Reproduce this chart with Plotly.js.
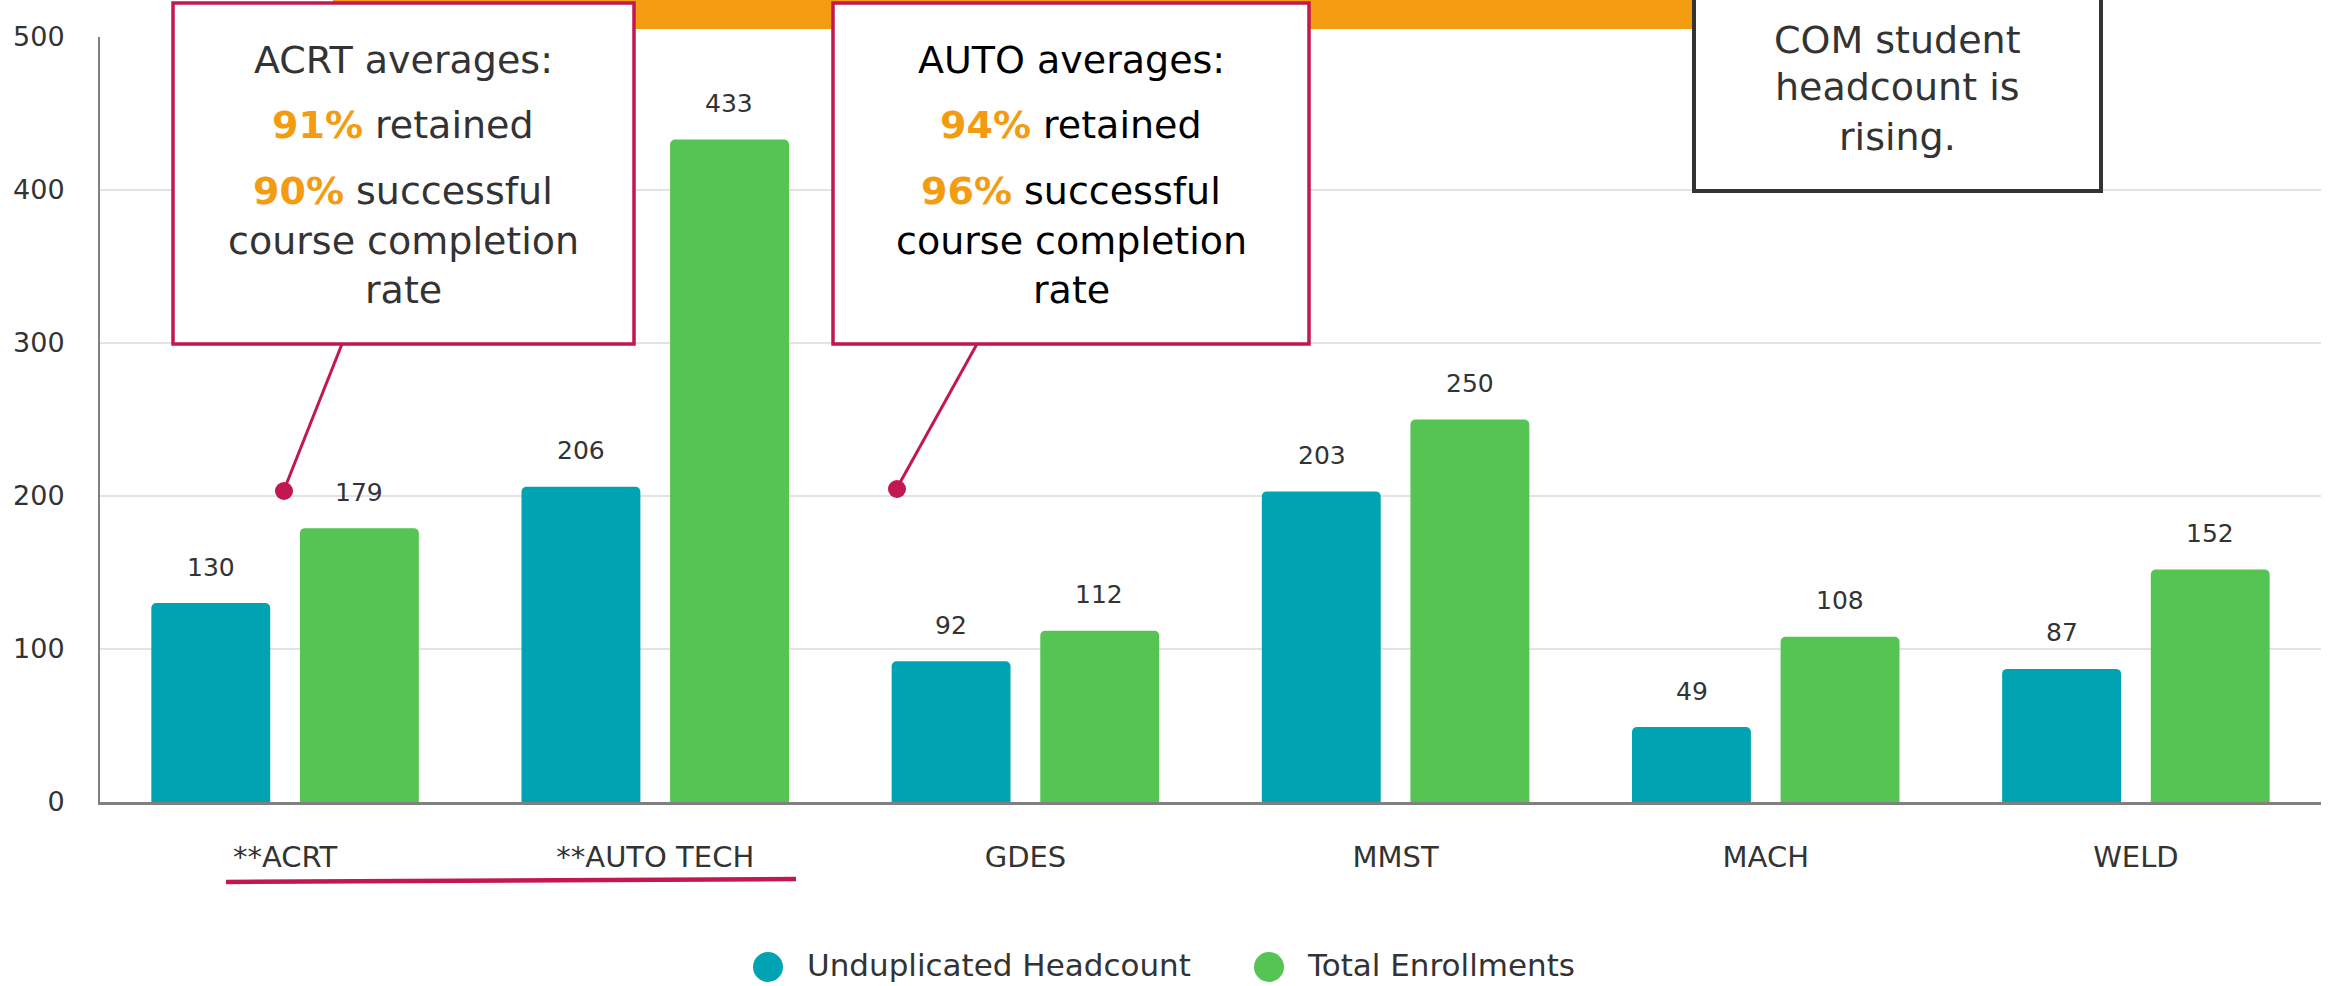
<!DOCTYPE html>
<html>
<head>
<meta charset="utf-8">
<script src="https://cdn.plot.ly/plotly-3.0.1.min.js"></script>
<style>
  html, body { margin: 0; padding: 0; background: #ffffff; }
  #chart { width: 2333px; height: 986px; }
</style>
</head>
<body>
<div id="chart"></div>
<script>
// ---- data ----
const categories = ['**ACRT', '**AUTO TECH', 'GDES', 'MMST', 'MACH', 'WELD'];
const headcount = [130, 206, 92, 203, 49, 87];
const enrollments = [179, 433, 112, 250, 108, 152];
const yTicks = [0, 100, 200, 300, 400, 500];
const seriesNames = ['Unduplicated Headcount', 'Total Enrollments'];
const acrtLines = ['ACRT averages:', '91%| retained', '90%| successful', 'course completion', 'rate'];
const autoLines = ['AUTO averages:', '94%| retained', '96%| successful', 'course completion', 'rate'];
const comLines = ['COM student', 'headcount is', 'rising.'];

// ---- style ----
const FONT = 'DejaVu Sans';
const TEAL = '#00A3B1';
const GREEN = '#56C453';
const ORANGE = '#F39C12';
const CRIMSON = '#C2174F';
const TXT = '#333333';

const W = 2333, H = 986;
const M = { l: 100, r: 12, t: 37, b: 184 };
const PW = W - M.l - M.r, PH = H - M.t - M.b;
const X = px => (px - M.l) / PW;
const Y = py => (H - M.b - py) / PH;

function fmtLine(s) {
  if (s.indexOf('|') >= 0) {
    const parts = s.split('|');
    return '<span style="color:' + ORANGE + '"><b>' + parts[0] + '</b></span>' + parts[1];
  }
  return s;
}

const traces = [
  { type: 'bar', name: seriesNames[0], x: categories, y: headcount, marker: { color: TEAL }, hoverinfo: 'x+y' },
  { type: 'bar', name: seriesNames[1], x: categories, y: enrollments, marker: { color: GREEN }, hoverinfo: 'x+y' }
];

const annotations = [];
// value labels
categories.forEach((c, i) => {
  annotations.push({ x: c, y: headcount[i], xref: 'x', yref: 'y', xshift: -74, yshift: 36, text: String(headcount[i]),
    showarrow: false, font: { family: FONT, size: 25, color: TXT }, yanchor: 'middle' });
  annotations.push({ x: c, y: enrollments[i], xref: 'x', yref: 'y', xshift: 74, yshift: 36, text: String(enrollments[i]),
    showarrow: false, font: { family: FONT, size: 25, color: TXT }, yanchor: 'middle' });
});

const BOXFONT = 38;
const boxLineY = [60, 125, 191, 241, 290];
acrtLines.forEach((t, i) => annotations.push({ xref: 'paper', yref: 'paper', x: X(403), y: Y(boxLineY[i]), text: fmtLine(t),
  showarrow: false, xanchor: 'center', yanchor: 'middle', font: { family: FONT, size: BOXFONT, color: TXT } }));
autoLines.forEach((t, i) => annotations.push({ xref: 'paper', yref: 'paper', x: X(1071), y: Y(boxLineY[i]), text: fmtLine(t),
  showarrow: false, xanchor: 'center', yanchor: 'middle', font: { family: FONT, size: BOXFONT, color: '#000000' } }));
const comLineY = [40, 87, 137];
comLines.forEach((t, i) => annotations.push({ xref: 'paper', yref: 'paper', x: X(1897), y: Y(comLineY[i]), text: t,
  showarrow: false, xanchor: 'center', yanchor: 'middle', font: { family: FONT, size: BOXFONT, color: TXT } }));

// manual legend text
annotations.push({ xref: 'paper', yref: 'paper', x: X(805), y: Y(965), text: seriesNames[0], showarrow: false,
  xanchor: 'left', yanchor: 'middle', font: { family: FONT, size: 31, color: TXT } });
annotations.push({ xref: 'paper', yref: 'paper', x: X(1305), y: Y(965), text: seriesNames[1], showarrow: false,
  xanchor: 'left', yanchor: 'middle', font: { family: FONT, size: 31, color: TXT } });

function rect(x0, y0, x1, y1, fill, lineColor, lw) {
  return { type: 'rect', xref: 'paper', yref: 'paper', x0: X(x0), x1: X(x1), y0: Y(y1), y1: Y(y0),
    fillcolor: fill, line: { color: lineColor, width: lw }, layer: 'above' };
}
function seg(x0, y0, x1, y1, color, lw) {
  return { type: 'line', xref: 'paper', yref: 'paper', x0: X(x0), y0: Y(y0), x1: X(x1), y1: Y(y1),
    line: { color: color, width: lw }, layer: 'above' };
}
function dot(cx, cy, r, color) {
  return { type: 'circle', xref: 'paper', yref: 'paper', x0: X(cx - r), x1: X(cx + r), y0: Y(cy + r), y1: Y(cy - r),
    fillcolor: color, line: { width: 0 }, layer: 'above' };
}

const shapes = [
  rect(333, -2, 1692, 29, ORANGE, ORANGE, 0),
  rect(173, 3, 634, 344, '#ffffff', CRIMSON, 3.5),
  rect(833, 3, 1309, 344, '#ffffff', CRIMSON, 3.5),
  rect(1694, -10, 2101, 191, '#ffffff', TXT, 4),
  seg(342, 344, 284, 490, CRIMSON, 3),
  dot(284, 491, 9, CRIMSON),
  seg(977, 344, 897, 488, CRIMSON, 3),
  dot(897, 489, 9, CRIMSON),
  seg(226, 882, 796, 879, CRIMSON, 4.5),
  dot(768, 967, 15, TEAL),
  dot(1269, 967, 15, GREEN)
];

const layout = {
  width: W, height: H,
  margin: M,
  paper_bgcolor: '#ffffff', plot_bgcolor: '#ffffff',
  showlegend: false,
  barmode: 'group',
  bargap: 0.197,
  bargroupgap: 0.2,
  barcornerradius: 5,
  font: { family: FONT, color: TXT },
  xaxis: {
    type: 'category',
    showline: true, linecolor: '#808080', linewidth: 3,
    ticks: 'outside', ticklen: 27, tickcolor: 'rgba(0,0,0,0)',
    tickfont: { family: FONT, size: 29, color: TXT },
    showgrid: false, zeroline: false, fixedrange: true
  },
  yaxis: {
    range: [0, 500],
    tickmode: 'array', tickvals: yTicks, ticktext: yTicks.map(String),
    showgrid: true, gridcolor: '#e3e3e3', gridwidth: 2,
    showline: true, linecolor: '#808080', linewidth: 2,
    ticks: 'outside', ticklen: 28, tickcolor: 'rgba(0,0,0,0)',
    tickfont: { family: FONT, size: 27, color: TXT },
    zeroline: false, fixedrange: true
  },
  annotations: annotations,
  shapes: shapes
};

Plotly.newPlot('chart', traces, layout, { displayModeBar: false, responsive: false });
</script>
</body>
</html>
